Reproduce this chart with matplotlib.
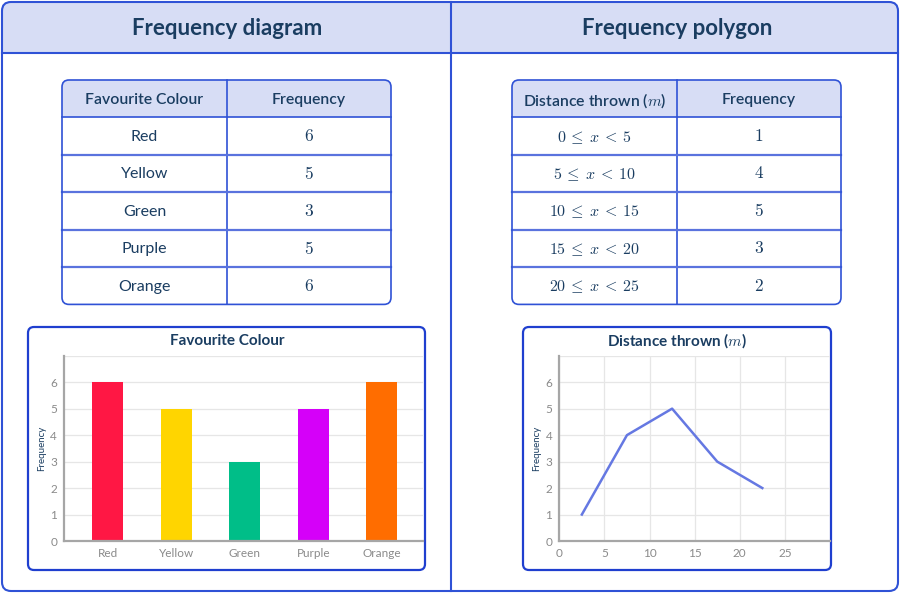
import matplotlib
matplotlib.use('Agg')
import matplotlib.pyplot as plt
from matplotlib.patches import FancyBboxPatch, Rectangle

plt.rcParams['font.family'] = ['Lato', 'DejaVu Sans']
plt.rcParams['mathtext.fontset'] = 'cm'

# datos
colores = ['Red', 'Yellow', 'Green', 'Purple', 'Orange']
frec_colores = [6, 5, 3, 5, 6]
colores_barras = ['#FF1744', '#FFD500', '#00BE88', '#D500F9', '#FF6D00']

intervalos = [r'$0 \:\leq\: x \:<\: 5$', r'$5 \:\leq\: x \:<\: 10$', r'$10 \:\leq\: x \:<\: 15$',
              r'$15 \:\leq\: x \:<\: 20$', r'$20 \:\leq\: x \:<\: 25$']
frec_distancia = [1, 4, 5, 3, 2]
puntos_medios = [2.5, 7.5, 12.5, 17.5, 22.5]

AZUL = '#2F52D6'
AZUL_CLARO = '#D7DDF5'
NAVY = '#1A3D61'
GRIS = '#8A8A8A'
W, H = 902, 595

fig = plt.figure(figsize=(W / 100, H / 100), dpi=100)
fondo = fig.add_axes([0, 0, 1, 1])
fondo.set_xlim(0, W)
fondo.set_ylim(H, 0)
fondo.axis('off')


def caja_con_cabecera(ax, x, y, w, h, hcab, r, lw):
    # caja redondeada con la cabecera pintada
    ax.add_patch(FancyBboxPatch((x, y), w, h, boxstyle=f'round,pad=0,rounding_size={r}',
                                fc=AZUL_CLARO, ec='none'))
    ax.add_patch(FancyBboxPatch((x, y + hcab), w, h - hcab, boxstyle=f'round,pad=0,rounding_size={r}',
                                fc='white', ec='none'))
    ax.add_patch(Rectangle((x, y + hcab), w, r + 2, fc='white', ec='none'))
    ax.plot([x, x + w], [y + hcab, y + hcab], color=AZUL, lw=lw)
    ax.add_patch(FancyBboxPatch((x, y), w, h, boxstyle=f'round,pad=0,rounding_size={r}',
                                fc='none', ec=AZUL, lw=lw, zorder=5))


# marco general
caja_con_cabecera(fondo, 2, 2, 896, 589, 51, 9, 1.5)
fondo.plot([451, 451], [2, 591], color=AZUL, lw=1.5)
fondo.text(227, 28.5, 'Frequency diagram', ha='center', va='center',
           fontsize=16, fontweight='bold', color=NAVY)
fondo.text(677, 28.5, 'Frequency polygon', ha='center', va='center',
           fontsize=16, fontweight='bold', color=NAVY)


def tabla(ax, x0, cab, col1, col2):
    y0, hf, w1, w2 = 80, 37.4, 165, 164
    n = len(col1)
    caja_con_cabecera(ax, x0, y0, w1 + w2, hf * (n + 1), hf, 7, 1.2)
    ax.plot([x0 + w1, x0 + w1], [y0, y0 + hf * (n + 1)], color=AZUL, lw=1.2)
    for i in range(1, n):
        yl = y0 + hf * (i + 1)
        ax.plot([x0, x0 + w1 + w2], [yl, yl], color='#5A73DE', lw=1.6)
    ax.text(x0 + w1 / 2, y0 + hf / 2 + 1.5, cab[0], ha='center', va='center',
            fontsize=11.3, fontweight='semibold', color=NAVY)
    ax.text(x0 + w1 + w2 / 2, y0 + hf / 2 + 1.5, cab[1], ha='center', va='center',
            fontsize=11.3, fontweight='semibold', color=NAVY)
    for i, (a, b) in enumerate(zip(col1, col2)):
        yc = y0 + hf * (i + 1.5)
        ax.text(x0 + w1 / 2, yc + 1, a, ha='center', va='center', fontsize=11.5, color=NAVY)
        ax.text(x0 + w1 + w2 / 2, yc, f'${b}$', ha='center', va='center', fontsize=12.5, color=NAVY)


tabla(fondo, 62, ['Favourite Colour', 'Frequency'], colores, frec_colores)
tabla(fondo, 512, [r'Distance thrown ($m$)', 'Frequency'], intervalos, frec_distancia)

# cajas de los graficos
for xb, wb in [(28, 397), (523, 308)]:
    fondo.add_patch(FancyBboxPatch((xb, 327), wb, 243, boxstyle='round,pad=0,rounding_size=6',
                                   fc='white', ec='#1F3FCF', lw=1.6))
fondo.text(227, 341, 'Favourite Colour', ha='center', va='center',
           fontsize=11, fontweight='bold', color=NAVY)
fondo.text(677, 341, r'Distance thrown ($m$)', ha='center', va='center',
           fontsize=11, fontweight='bold', color=NAVY)


def ejes(x0, x1):
    y0, y1 = 541, 355.7
    ax = fig.add_axes([x0 / W, (H - y0) / H, (x1 - x0) / W, (y0 - y1) / H])
    ax.set_facecolor('none')
    ax.set_ylim(0, 7)
    ax.set_yticks(range(0, 8))
    ax.set_yticklabels([str(i) for i in range(0, 7)] + [''])
    ax.grid(axis='y', color='#E6E6E6', lw=0.9)
    ax.set_axisbelow(True)
    for s in ['top', 'right']:
        ax.spines[s].set_visible(False)
    for s in ['left', 'bottom']:
        ax.spines[s].set_color('#A6A6A6')
        ax.spines[s].set_linewidth(1.6)
    ax.tick_params(length=0, labelsize=8.5, labelcolor=GRIS, pad=5)
    ax.set_ylabel('Frequency', fontsize=7, color=NAVY, labelpad=3)
    return ax


# diagrama de barras
ax1 = ejes(64, 423)
ax1.bar(range(len(colores)), frec_colores, width=0.45, color=colores_barras)
ax1.set_xlim(-0.635, 4.6)
ax1.set_xticks(range(len(colores)))
ax1.set_xticklabels(colores)

# poligono de frecuencias
ax2 = ejes(559.3, 830)
ax2.plot(puntos_medios, frec_distancia, color='#6578E2', lw=1.8)
ax2.set_xlim(0, 30)
ax2.set_xticks(range(0, 31, 5))
ax2.set_xticklabels([str(i) for i in range(0, 26, 5)] + [''])
ax2.grid(axis='x', color='#E6E6E6', lw=0.9)

fig.savefig('out.png', dpi=100)
